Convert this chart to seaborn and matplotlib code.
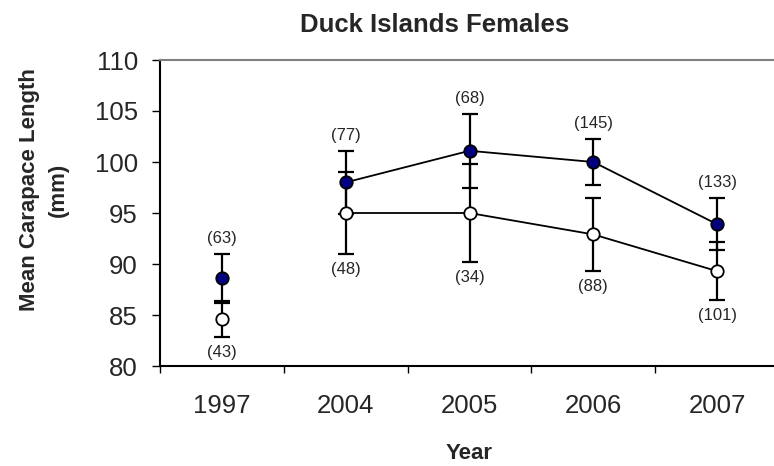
import numpy as np
import pandas as pd
import matplotlib
matplotlib.use("Agg")
import matplotlib.pyplot as plt
import seaborn as sns

# values
years = ["1997", "2004", "2005", "2006", "2007"]
filled_mean = [88.6, 98.0, 101.1, 100.0, 93.9]
filled_err = [2.4, 3.1, 3.65, 2.3, 2.55]
open_mean = [84.6, 95.0, 95.0, 92.9, 89.3]
open_err = [1.75, 4.0, 4.85, 3.6, 2.85]
filled_n = [63, 77, 68, 145, 133]
open_n = [43, 48, 34, 88, 101]

df = pd.DataFrame({
    "Year": years,
    "pos": np.arange(len(years)),
    "filled": filled_mean,
    "filled_err": filled_err,
    "open": open_mean,
    "open_err": open_err,
    "filled_n": filled_n,
    "open_n": open_n,
})
connected = df[df["Year"] != "1997"]  # 1997 stands alone, no line to 2004

sns.set_style("white")
plt.rcParams["font.family"] = ["Liberation Sans", "DejaVu Sans"]

fig = plt.figure(figsize=(7.74, 4.66), dpi=100)
ax = fig.add_axes([160 / 774, 1 - 366 / 466, 619 / 774, 306 / 466])

for col in ["filled", "open"]:
    sns.lineplot(x="pos", y=col, data=connected, color="black", linewidth=1.3, ax=ax, zorder=2)

ax.errorbar(df["pos"], df["filled"], yerr=df["filled_err"], fmt="none", ecolor="black",
            elinewidth=1.6, capsize=6, capthick=1.6, zorder=3)
ax.errorbar(df["pos"], df["open"], yerr=df["open_err"], fmt="none", ecolor="black",
            elinewidth=1.6, capsize=6, capthick=1.6, zorder=3)

sns.scatterplot(x="pos", y="filled", data=df, color="#000080", edgecolor="black", linewidth=1.3,
                s=80, ax=ax, zorder=4)
sns.scatterplot(x="pos", y="open", data=df, color="white", edgecolor="black", linewidth=1.3,
                s=80, ax=ax, zorder=4)

# sample sizes above / below the bars
for _, r in df.iterrows():
    ax.annotate(f"({r['filled_n']})", (r["pos"], r["filled"] + r["filled_err"]),
                xytext=(0, 11), textcoords="offset points", ha="center", va="center", fontsize=12)
    ax.annotate(f"({r['open_n']})", (r["pos"], r["open"] - r["open_err"]),
                xytext=(0, -11), textcoords="offset points", ha="center", va="center", fontsize=12)

ax.set_xlim(-0.5, 4.5)
ax.set_ylim(80, 110)
ax.set_yticks(range(80, 111, 5))
ax.set_xticks(np.arange(-0.5, 4.6, 1))
ax.set_xticklabels([])
ax.set_xticks(df["pos"], minor=True)
ax.set_xticklabels(years, minor=True)
ax.tick_params(axis="x", which="major", direction="out", length=5, width=1, color="black", bottom=True)
ax.tick_params(axis="x", which="minor", length=0, pad=20, labelsize=18.5)
ax.tick_params(axis="y", direction="out", length=6, width=1, color="black", left=True, pad=10, labelsize=18.5)

for side in ["left", "bottom"]:
    ax.spines[side].set_color("black")
    ax.spines[side].set_linewidth(1.5)
ax.spines["top"].set_color("#808080")
ax.spines["top"].set_linewidth(1.5)
ax.spines["right"].set_visible(False)

ax.set_xlabel("Year", fontsize=16, fontweight="bold", labelpad=18)
ax.set_ylabel("Mean Carapace Length\n(mm)", fontsize=16, fontweight="bold", linespacing=1.45)
ax.yaxis.set_label_coords(-0.148, 0.575)

fig.text(435 / 774, 1 - 32 / 466, "Duck Islands Females", ha="center", va="baseline",
         fontsize=18.5, fontweight="bold")

fig.savefig("out.png", dpi=100)
